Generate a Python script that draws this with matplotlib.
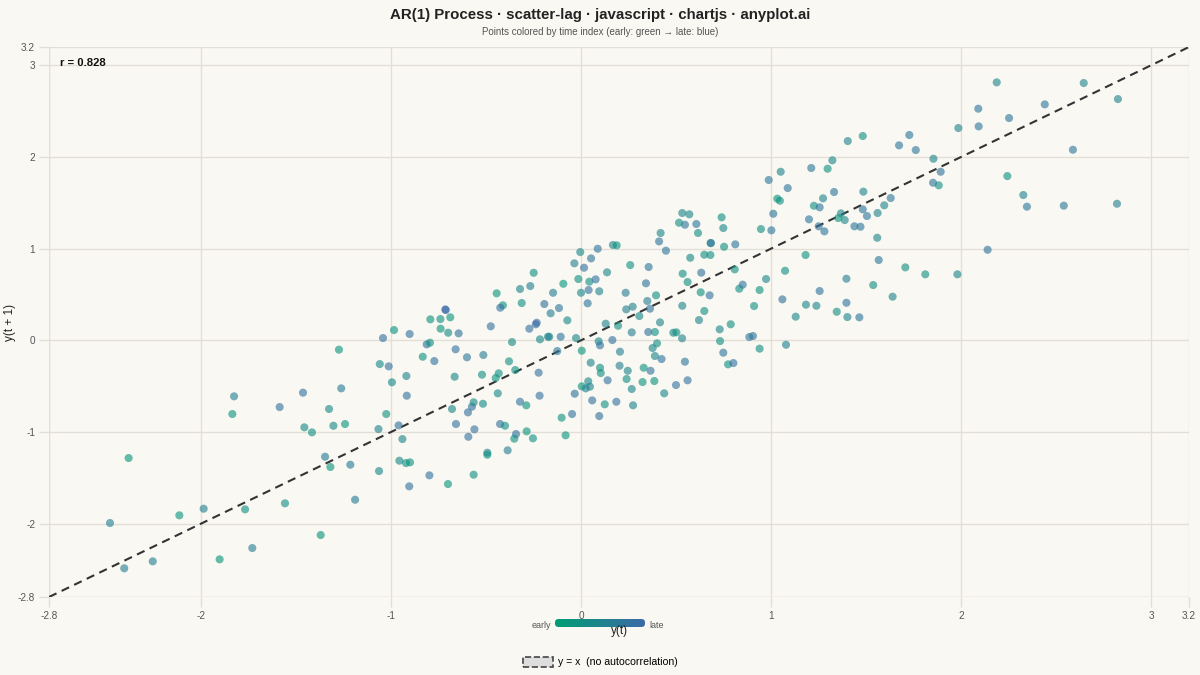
#!/usr/bin/env python3
# -*- coding: utf-8 -*-
"""
AR(1) lag scatter: y(t) against y(t+1), points coloured by time index.
"""

import matplotlib
matplotlib.use("Agg")
import matplotlib.pyplot as plt
import numpy as np
from matplotlib.colors import LinearSegmentedColormap
from matplotlib.patches import Patch, FancyBboxPatch

plt.rcParams['font.family'] = ['Liberation Sans', 'DejaVu Sans']

##! Data (y(t), y(t+1), time fraction from colour):
y_t = [
    -2.479, -2.404, -2.254, -2.381, -2.114, -1.986, -1.902, -1.768, -1.730, -1.835,
    -1.826, -1.558, -1.586, -1.463, -1.456, -1.416, -1.370, -1.347, -1.319, -1.326,
    -1.303, -1.274, -1.262, -1.242, -1.214, -1.189, -1.063, -1.066, -1.059, -1.042,
    -0.984, -0.902, -1.012, -0.995, -1.025, -0.960, -0.940, -0.956, -0.921, -0.900,
    -0.904, -0.919, -0.917, -0.833, -0.812, -0.795, -0.798, -0.700, -0.565, -0.772,
    -0.793, -0.740, -0.688, -0.714, -0.712, -0.739, -0.699, -0.644, -0.660, -0.665,
    -0.679, -0.658, -0.595, -0.574, -0.565, -0.516, -0.593, -0.561, -0.600, -0.514,
    -0.521, -0.493, -0.493, -0.475, -0.444, -0.411, -0.425, -0.363, -0.379, -0.433,
    -0.449, -0.438, -0.346, -0.426, -0.400, -0.342, -0.351, -0.386, -0.321, -0.288,
    -0.286, -0.253, -0.218, -0.223, -0.321, -0.267, -0.312, -0.272, -0.238, -0.233,
    -0.216, -0.174, -0.167, -0.193, -0.160, -0.147, -0.116, -0.093, -0.072, -0.107,
    -0.125, -0.102, -0.081, -0.047, -0.033, -0.026, 0.004, 0.000, 0.040, 0.035,
    0.096, 0.093, 0.100, 0.051, 0.038, 0.004, 0.025, 0.047, 0.059, 0.096,
    0.125, 0.140, 0.100, 0.104, 0.130, 0.165, 0.195, 0.205, 0.203, 0.246,
    0.240, 0.267, 0.186, 0.274, 0.267, 0.235, 0.238, 0.272, 0.307, 0.342,
    0.349, 0.395, 0.363, 0.416, 0.354, 0.389, 0.400, 0.377, 0.389, 0.424,
    0.366, 0.330, 0.324, 0.386, 0.438, -0.249, -0.014, 0.044, 0.077, -0.035,
    0.016, -0.004, 0.053, 0.088, 0.168, 0.188, 0.137, 0.259, 0.356, 0.411,
    0.419, 0.447, 0.516, 0.533, 0.570, 0.547, 0.607, 0.616, 0.740, 0.749,
    0.682, 0.684, 0.753, 0.812, 0.575, 0.649, 0.681, 0.535, 0.633, 0.561,
    0.630, 0.677, 0.809, 0.833, 0.851, 0.940, 0.974, 0.947, 1.002, 1.012,
    0.988, 1.051, 1.088, 1.033, 1.047, 1.074, 1.060, 1.182, 1.200, 1.226,
    1.256, 1.274, 1.251, 1.281, 1.332, 1.212, 1.298, 1.323, 1.404, 1.483,
    1.368, 1.354, 1.388, 1.439, 1.471, 1.486, 1.483, 1.505, 1.561, 1.596,
    1.630, 1.559, 1.567, 1.397, 1.256, 1.538, 1.640, 1.707, 1.812, 1.981,
    1.674, 1.728, 1.762, 1.855, 1.893, 1.853, 1.883, 1.986, 0.533, 0.649,
    0.621, 0.486, 0.502, 0.532, 0.730, 0.788, 0.911, 0.732, 0.886, 0.905,
    0.940, 0.749, 0.774, 0.802, 0.547, 0.561, 0.500, 1.079, 1.130, 1.184,
    1.239, 1.346, 1.397, 1.402, 1.465, 2.188, 2.646, 2.826, 2.441, 2.091,
    2.253, 2.093, 2.589, 2.244, 2.328, 2.347, 2.541, 2.821, 2.140,
]
y_next = [
    -1.993, -2.487, -2.411, -1.284, -1.909, -1.837, -2.389, -1.844, -2.266, -0.804,
    -0.611, -1.778, -0.728, -0.571, -0.949, -1.004, -2.124, -1.270, -1.382, -0.749,
    -0.932, -0.102, -0.524, -0.913, -1.357, -1.739, -1.426, -0.968, -0.259, 0.025,
    0.112, 0.069, -0.284, -0.458, -0.804, -0.928, -1.077, -1.313, -1.339, -1.331,
    -1.593, -0.389, -0.604, -0.179, -0.044, -0.026, -1.473, -1.568, -1.466, -0.226,
    0.229, 0.232, 0.251, 0.338, 0.330, 0.127, 0.083, 0.076, -0.098, -0.397,
    -0.749, -0.913, -0.786, -0.724, -0.676, -0.692, -1.052, -0.971, -0.185, -0.160,
    -0.375, -1.226, -1.248, 0.153, 0.513, 0.382, 0.356, -0.019, -0.229, -0.360,
    -0.411, -0.578, -0.324, -0.913, -0.932, -1.022, -1.073, -1.200, -0.670, -0.709,
    -0.993, -1.069, -0.604, -0.353, 0.560, 0.592, 0.407, 0.127, 0.175, 0.192,
    0.011, 0.039, 0.039, 0.396, 0.295, 0.519, 0.352, 0.617, 0.218, 0.039,
    -0.117, -0.844, -1.036, -0.804, -0.582, 0.025, -0.113, 0.519, 0.549, 0.404,
    0.535, -0.011, -0.055, -0.244, -0.447, -0.502, -0.524, -0.506, -0.655, -0.826,
    -0.698, -0.436, -0.299, -0.357, 0.181, 0.003, 0.159, -0.124, -0.277, -0.332,
    -0.422, -0.531, -0.670, -0.709, 0.087, 0.519, 0.338, 0.367, 0.265, 0.622,
    0.429, 0.491, 0.345, 0.196, 0.091, 0.091, -0.033, -0.084, -0.171, -0.204,
    -0.332, -0.299, -0.455, -0.444, -0.578, 0.737, 0.669, 0.640, 0.665, 0.840,
    0.792, 0.963, 0.894, 0.999, 1.040, 1.036, 0.742, 0.821, 0.800, 1.079,
    1.171, 0.978, 1.283, 1.389, 1.375, 1.261, 1.269, 1.171, 1.342, 1.225,
    1.061, 1.061, 1.021, 1.047, 0.901, 0.934, 0.931, 0.727, 0.738, 0.636,
    0.524, 0.491, 0.774, 0.563, 0.607, 0.549, 0.669, 1.214, 1.200, 1.381,
    1.749, 1.839, 1.661, 1.545, 1.523, 0.759, 0.447, 0.931, 1.320, 1.468,
    1.451, 1.549, 1.244, 1.189, 1.618, 1.880, 1.872, 1.964, 2.174, 2.229,
    1.385, 1.334, 1.312, 1.244, 1.239, 1.622, 1.429, 1.356, 1.389, 1.473,
    1.552, 1.119, 0.876, 0.672, 0.538, 0.603, 0.476, 0.796, 0.720, 0.720,
    2.127, 2.240, 2.076, 1.981, 1.839, 1.719, 1.691, 2.316, 0.377, 0.320,
    0.221, 0.083, 0.087, 0.022, 0.120, 0.175, 0.374, -0.008, 0.036, 0.047,
    -0.091, -0.135, -0.262, -0.248, -0.233, -0.436, -0.488, -0.048, 0.258, 0.389,
    0.377, 0.312, 0.410, 0.254, 0.251, 2.814, 2.807, 2.632, 2.574, 2.527,
    2.425, 2.334, 2.079, 1.792, 1.585, 1.458, 1.469, 1.490, 0.988,
]
t_frac = [
    0.60, 0.60, 0.60, 0.15, 0.20, 0.60, 0.15, 0.30, 0.60, 0.20,
    0.60, 0.30, 0.85, 0.85, 0.40, 0.30, 0.15, 0.65, 0.20, 0.40,
    0.40, 0.20, 0.65, 0.20, 0.65, 0.65, 0.45, 0.50, 0.40, 0.85,
    0.20, 0.85, 0.85, 0.40, 0.25, 0.80, 0.45, 0.40, 0.30, 0.20,
    0.85, 0.45, 0.85, 0.25, 0.80, 0.30, 0.85, 0.20, 0.30, 0.85,
    0.20, 0.30, 0.20, 0.95, 0.95, 0.20, 0.40, 0.80, 0.85, 0.45,
    0.40, 0.85, 0.85, 0.80, 0.40, 0.40, 0.85, 0.85, 0.75, 0.60,
    0.30, 0.60, 0.20, 0.85, 0.15, 0.30, 0.85, 0.35, 0.30, 0.30,
    0.20, 0.40, 0.30, 0.85, 0.30, 0.85, 0.30, 0.60, 0.85, 0.20,
    0.20, 0.30, 0.85, 0.85, 0.45, 0.60, 0.30, 0.85, 0.85, 0.95,
    0.45, 0.50, 0.50, 0.80, 0.60, 0.60, 0.75, 0.20, 0.45, 0.75,
    0.75, 0.25, 0.20, 0.85, 0.80, 0.45, 0.20, 0.45, 0.85, 0.75,
    0.50, 0.45, 0.80, 0.50, 0.45, 0.20, 0.50, 0.50, 0.85, 0.80,
    0.30, 0.85, 0.30, 0.30, 0.50, 0.85, 0.30, 0.60, 0.60, 0.45,
    0.30, 0.45, 0.85, 0.50, 0.60, 0.60, 0.60, 0.50, 0.45, 0.80,
    0.60, 0.30, 0.80, 0.50, 0.80, 0.30, 0.30, 0.45, 0.45, 0.85,
    0.85, 0.25, 0.25, 0.20, 0.45, 0.30, 0.30, 0.30, 0.85, 0.60,
    0.85, 0.45, 0.75, 0.75, 0.45, 0.25, 0.45, 0.30, 0.75, 0.80,
    0.45, 0.75, 0.30, 0.45, 0.45, 0.75, 0.75, 0.30, 0.25, 0.45,
    0.50, 0.70, 0.30, 0.75, 0.40, 0.30, 0.30, 0.30, 0.80, 0.30,
    0.25, 0.85, 0.30, 0.30, 0.75, 0.25, 0.45, 0.30, 0.75, 0.75,
    0.75, 0.50, 0.75, 0.20, 0.30, 0.30, 0.80, 0.25, 0.75, 0.30,
    0.75, 0.50, 0.80, 0.75, 0.75, 0.75, 0.25, 0.45, 0.50, 0.30,
    0.50, 0.20, 0.45, 0.75, 0.75, 0.50, 0.75, 0.75, 0.50, 0.50,
    0.75, 0.45, 0.75, 0.60, 0.80, 0.30, 0.50, 0.30, 0.30, 0.45,
    0.75, 0.75, 0.75, 0.50, 0.80, 0.75, 0.30, 0.50, 0.45, 0.30,
    0.50, 0.40, 0.30, 0.50, 0.45, 0.30, 0.30, 0.30, 0.75, 0.75,
    0.30, 0.75, 0.30, 0.85, 0.75, 0.85, 0.85, 0.55, 0.45, 0.45,
    0.45, 0.30, 0.75, 0.50, 0.75, 0.50, 0.50, 0.50, 0.75, 0.75,
    0.75, 0.75, 0.75, 0.30, 0.50, 0.75, 0.70, 0.60, 0.80,
]
r_value = "0.828"

ax_min, ax_max = -2.8, 3.2
tick_vals = [-2.8, -2, -1, 0, 1, 2, 3, 3.2]
tick_text = ["-2.8", "-2", "-1", "0", "1", "2", "3", "3.2"]

bg = '#faf8f2'
cmap = LinearSegmentedColormap.from_list('time', ['#009e73', '#3d6aa8'])

##! Figure:
fig = plt.figure(figsize=(12, 6.75), dpi=100, facecolor=bg)
ax = fig.add_axes([49/1200, 1-597/675, 1140/1200, 550/675], facecolor=bg)

#-- Points and diagonal:
ax.scatter(y_t, y_next, c=t_frac, cmap=cmap, vmin=0, vmax=1, s=34,
           alpha=0.62, linewidths=0, zorder=3)
ax.plot([ax_min, ax_max], [ax_min, ax_max], color='#333333', lw=1.5,
        dashes=(4, 2.7), zorder=2)

ax.set_xlim(ax_min, ax_max)
ax.set_ylim(ax_min, ax_max)
ax.set_xticks(tick_vals)
ax.set_xticklabels(tick_text)
ax.set_yticks(tick_vals)
ax.set_yticklabels(tick_text)
ax.grid(True, color='#e2dfd8', lw=1, zorder=0)
ax.tick_params(colors='#555555', labelsize=7.2, length=7, width=1, pad=3)
ax.tick_params(axis='both', which='both', color='#e2dfd8')
for sp in ax.spines.values():
    sp.set_visible(False)
ax.axvline(ax_min, color='#e2dfd8', lw=1, zorder=0)
ax.axhline(ax_min, color='#e2dfd8', lw=1, zorder=0)

ax.text(0.0095, 0.971, "r = " + r_value, transform=ax.transAxes,
        fontsize=8.1, fontweight='bold', color='#111111', va='center')

#-- Titles and axis labels:
fig.text(0.5, 1-15/675, "AR(1) Process \u00b7 scatter-lag \u00b7 javascript \u00b7 chartjs \u00b7 anyplot.ai",
         ha='center', va='center', fontsize=10.8, fontweight='bold', color='#222222')
fig.text(0.5, 1-32/675, "Points colored by time index (early: green \u2192 late: blue)",
         ha='center', va='center', fontsize=7, color='#555555')
fig.text(10/1200, 1-322/675, "y(t + 1)", rotation=90, ha='center', va='center',
         fontsize=8.5, color='#222222')
fig.text(620/1200, 1-631/675, "y(t)", ha='center', va='center',
         fontsize=8.5, color='#222222')

#-- Colour bar (early -> late):
cax = fig.add_axes([555/1200, 1-627/675, 90/1200, 8/675])
grad = np.linspace(0, 1, 256).reshape(1, -1)
im = cax.imshow(grad, cmap=cmap, aspect='auto', extent=[0, 1, 0, 1])
clip = FancyBboxPatch((0, 0), 1, 1, boxstyle='round,pad=0,rounding_size=0.04',
                      transform=cax.transAxes, facecolor='none', edgecolor='none',
                      mutation_aspect=11)
cax.add_patch(clip)
im.set_clip_path(clip)
cax.axis('off')
fig.text(551/1200, 1-625/675, "early", ha='right', va='center', fontsize=6.5, color='#555555')
fig.text(649/1200, 1-625/675, "late", ha='left', va='center', fontsize=6.5, color='#555555')

#-- Legend:
leg_handle = Patch(facecolor='#dddddd', edgecolor='#444444', linestyle='--', lw=1.2)
fig.legend([leg_handle], ["y = x  (no autocorrelation)"], loc='center',
           bbox_to_anchor=(0.5, 1-662/675), frameon=False, fontsize=7.6,
           handlelength=2.9, handleheight=1.1, handletextpad=0.4)

plt.savefig('out.png', dpi=100, facecolor=bg)
plt.close()
